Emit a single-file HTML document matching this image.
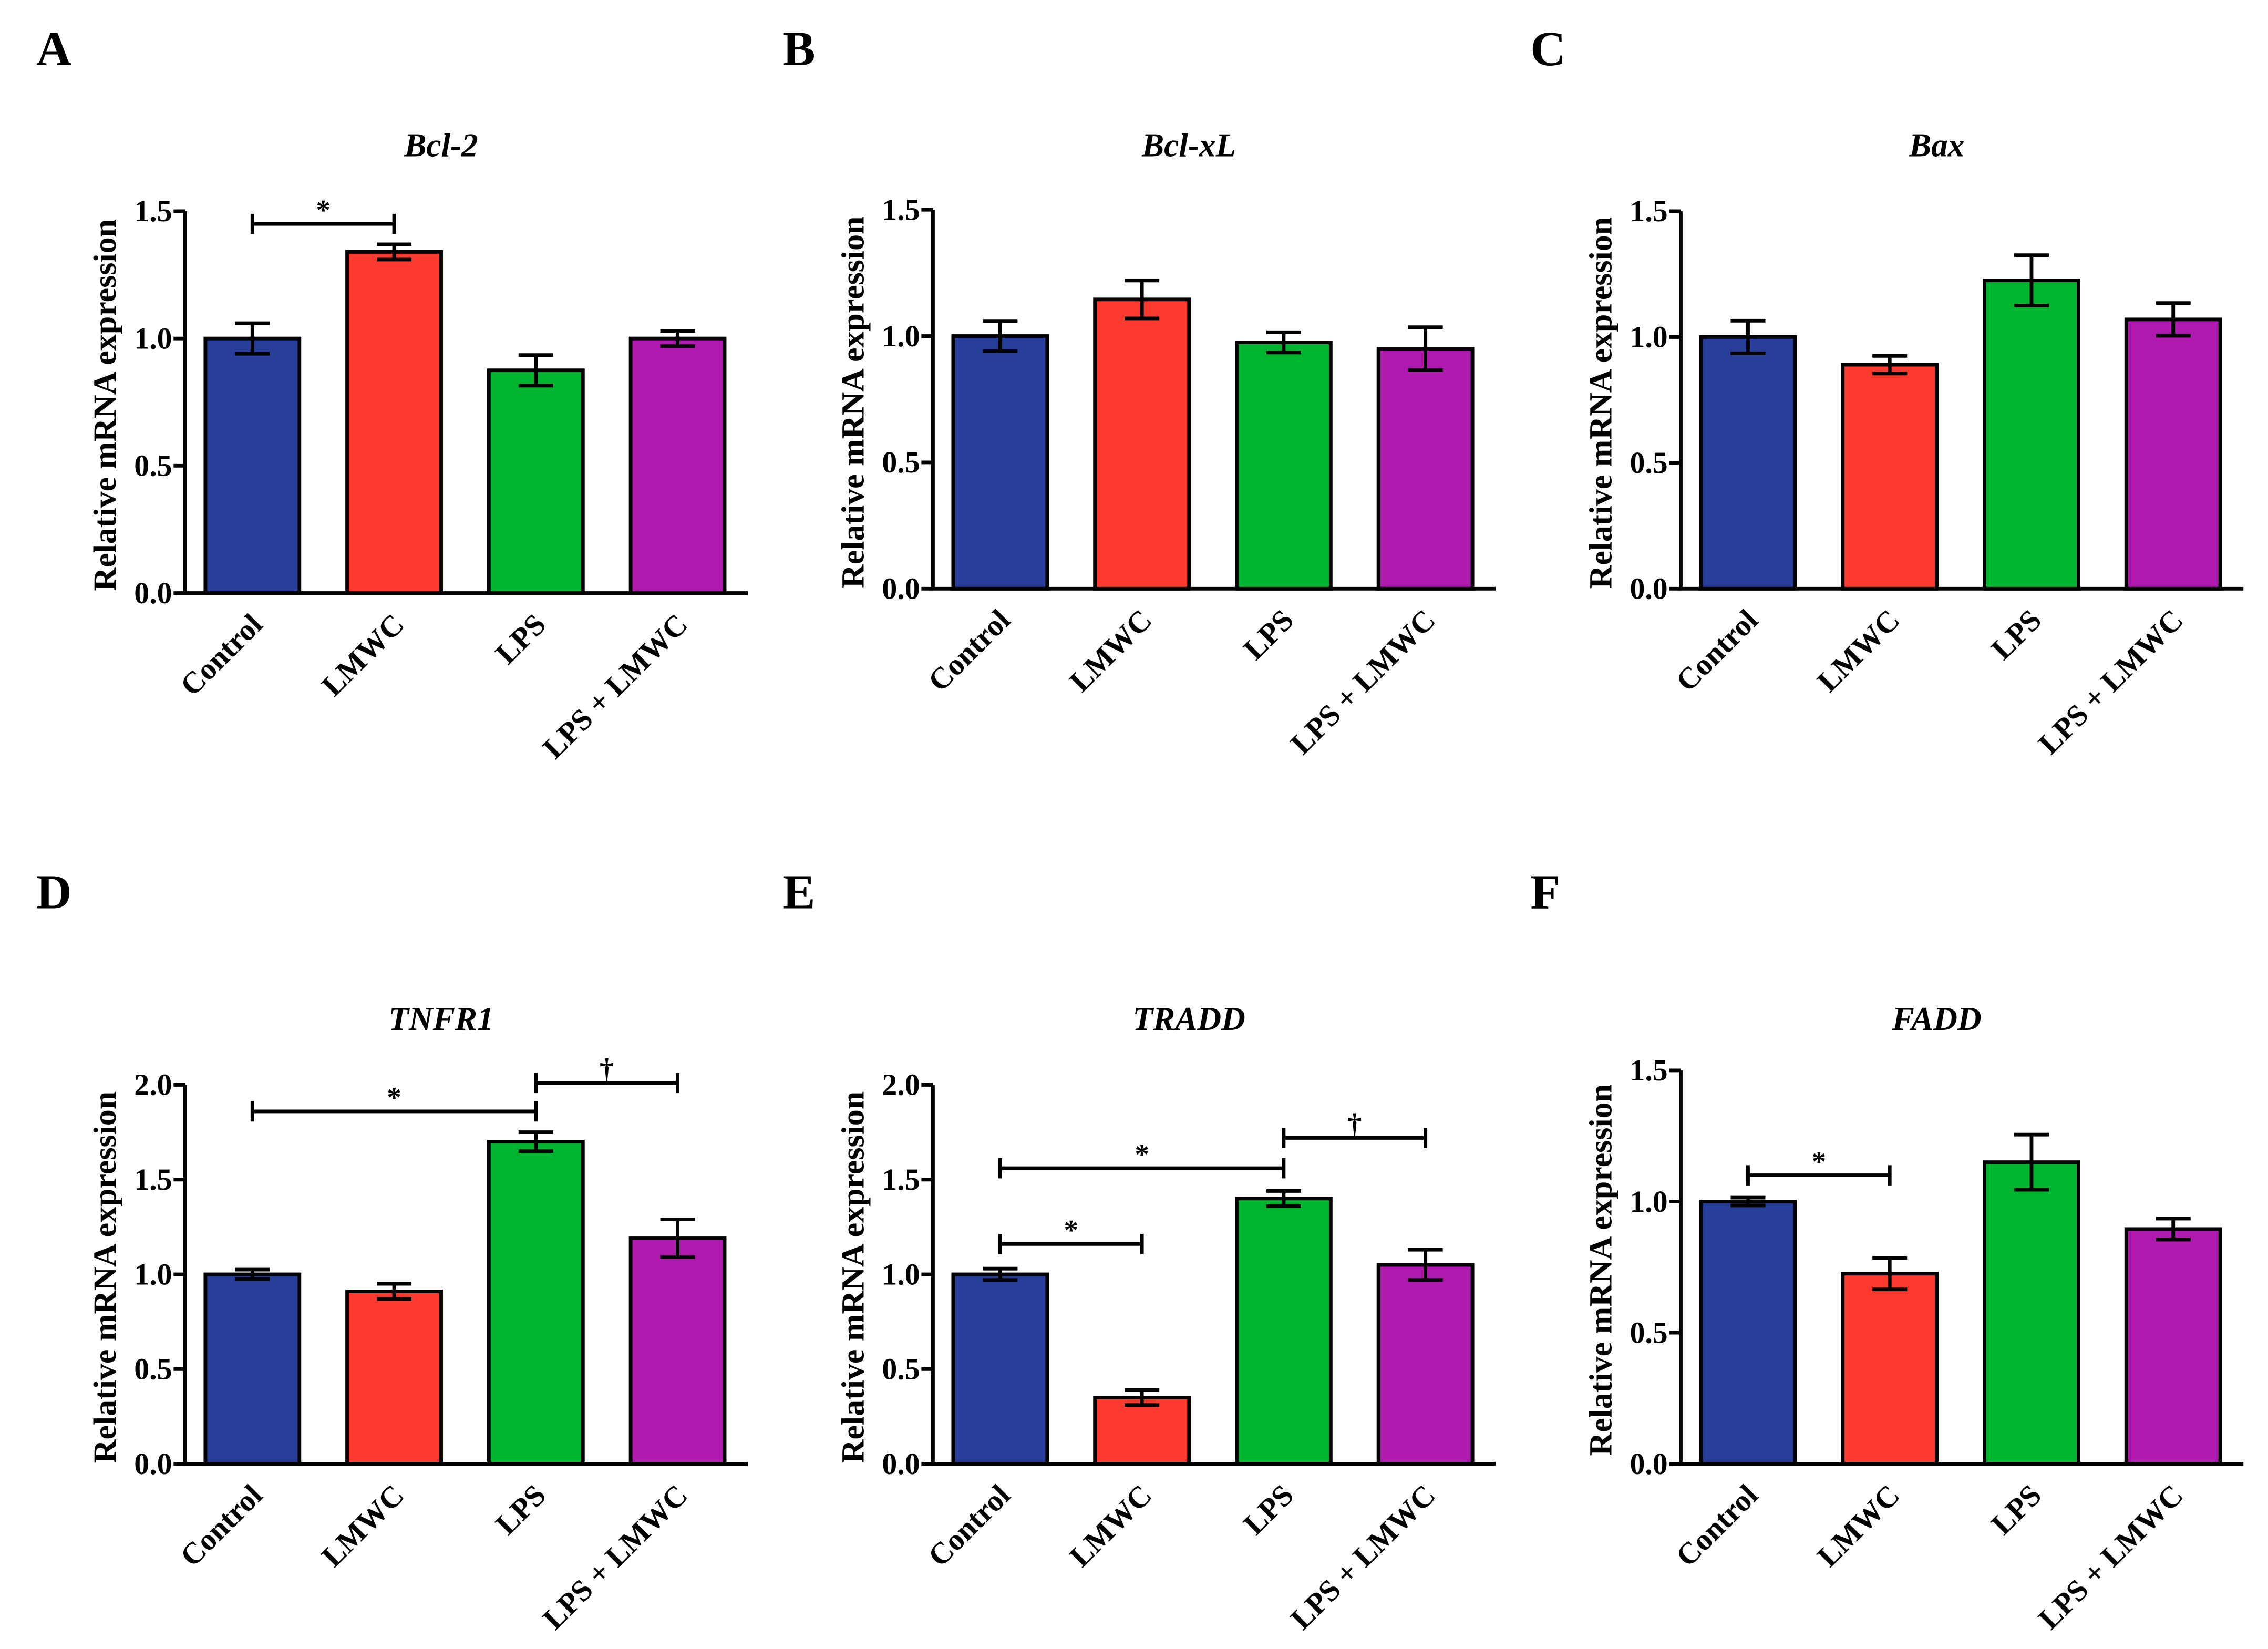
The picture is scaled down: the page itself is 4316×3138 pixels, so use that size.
<!DOCTYPE html>
<html><head><meta charset="utf-8"><style>
html,body{margin:0;padding:0;background:#fff;}
svg{display:block;}
text{font-family:"Liberation Serif",serif;font-weight:bold;fill:#000;}
</style></head><body>
<svg id="fig" width="4316" height="3138" viewBox="0 0 1568 1140" xmlns="http://www.w3.org/2000/svg"></svg>
<script>
const categories = ["Control","LMWC","LPS","LPS + LMWC"];
const colors = ["#283f9a","#ff3a2e","#00b530","#ae1aad"];
const genes = ["Bcl-2","Bcl-xL","Bax","TNFR1","TRADD","FADD"];
const letters = ["A","B","C","D","E","F"];
const valsA = [1.00,1.34,0.875,1.00];  const errA = [0.06,0.03,0.06,0.03];
const valsB = [1.00,1.145,0.975,0.95]; const errB = [0.06,0.075,0.04,0.085];
const valsC = [1.00,0.89,1.225,1.07];  const errC = [0.065,0.035,0.10,0.065];
const valsD = [1.00,0.91,1.70,1.19];   const errD = [0.025,0.04,0.05,0.10];
const valsE = [1.00,0.35,1.40,1.05];   const errE = [0.03,0.04,0.04,0.08];
const valsF = [1.00,0.725,1.15,0.895]; const errF = [0.015,0.06,0.105,0.04];
const ymaxes = [1.5,1.5,1.5,2.0,2.0,1.5];
const ticks15 = ["0.0","0.5","1.0","1.5"];
const ticks20 = ["0.0","0.5","1.0","1.5","2.0"];
const sigA = [[0,1,1.45,"*"]];
const sigB = [];
const sigC = [];
const sigD = [[0,2,1.86,"*"],[2,3,2.01,"†"]];
const sigE = [[0,1,1.16,"*"],[0,2,1.56,"*"],[2,3,1.72,"†"]];
const sigF = [[0,1,1.10,"*"]];

const NS="http://www.w3.org/2000/svg";
const svg=document.getElementById('fig');
function mk(tag,attrs,parent){const e=document.createElementNS(NS,tag);for(const k in attrs)e.setAttribute(k,attrs[k]);(parent||svg).appendChild(e);return e;}

const layout=[
 {ax:128,y0:410,top:146,lx:25,ly:45,ty:108},
 {ax:645,y0:407,top:145,lx:541,ly:45,ty:108},
 {ax:1162,y0:407,top:146,lx:1058,ly:45,ty:108},
 {ax:128,y0:1012,top:750,lx:25,ly:628,ty:712},
 {ax:645,y0:1012,top:750,lx:541,ly:628,ty:712},
 {ax:1162,y0:1012,top:740,lx:1058,ly:628,ty:712}
];
const allVals=[valsA,valsB,valsC,valsD,valsE,valsF];
const allErr=[errA,errB,errC,errD,errE,errF];
const allSig=[sigA,sigB,sigC,sigD,sigE,sigF];
const SW=2.5;

layout.forEach((L,p)=>{
  const g=mk('g',{});
  
  
  const ymax=ymaxes[p];
  const y=v=>L.y0-(v/ymax)*(L.y0-L.top);
  const xc=i=>L.ax+46.5+i*98;
  const lt=mk('text',{x:L.lx,y:L.ly,'font-size':34},g);lt.textContent=letters[p];
  
  
  const tt=mk('text',{x:L.ax+177,y:L.ty,'font-size':23,'font-style':'italic','text-anchor':'middle'},g);tt.textContent=genes[p];
  
  
  allVals[p].forEach((v,i)=>{
    const r=mk('rect',{x:xc(i)-32.5,y:y(v),width:65,height:L.y0-y(v),fill:colors[i],stroke:'#000','stroke-width':SW},g);
    
    
    const e=allErr[p][i];
    const eb=mk('path',{d:`M${xc(i)},${y(v+e)}V${y(v-e)}M${xc(i)-12},${y(v+e)}H${xc(i)+12}M${xc(i)-12},${y(v-e)}H${xc(i)+12}`,stroke:'#000','stroke-width':SW,fill:'none'},g);
    
    
    const xl=mk('text',{x:0,y:0,'font-size':21,'text-anchor':'end',transform:`translate(${xc(i)+8},${L.y0+23}) rotate(-45)`},g);
    xl.textContent=categories[i];
    
    
  });
  const axes=mk('path',{d:`M${L.ax},${L.top}V${L.y0}H${L.ax+389}`,stroke:'#000','stroke-width':SW,fill:'none'},g);
  
  
  const tl=ymax===2?ticks20:ticks15;
  tl.forEach((t,k)=>{
    const yy=y(parseFloat(t));
    mk('path',{d:`M${L.ax-8},${yy}H${L.ax}`,stroke:'#000','stroke-width':SW},g);
    const tx=mk('text',{x:L.ax-9,y:yy+7,'font-size':21,'text-anchor':'end'},g);tx.textContent=t;
    
    
  });
  const yl=mk('text',{x:0,y:0,'font-size':22.5,'text-anchor':'middle',transform:`translate(${L.ax-48},${(L.top+L.y0)/2+2}) rotate(-90)`},g);
  yl.textContent='Relative mRNA expression';
  
  
  allSig[p].forEach(s=>{
    const x1=xc(s[0]),x2=xc(s[1]),yy=y(s[2]);
    const br=mk('path',{d:`M${x1},${yy-7}V${yy+7}M${x2},${yy-7}V${yy+7}M${x1},${yy}H${x2}`,stroke:'#000','stroke-width':SW,fill:'none'},g);
    
    
    const st=mk('text',{x:(x1+x2)/2,y:yy-3,'font-size':20,'text-anchor':'middle'},g);st.textContent=s[3];
    
    
  });
});
</script>
</body></html>
